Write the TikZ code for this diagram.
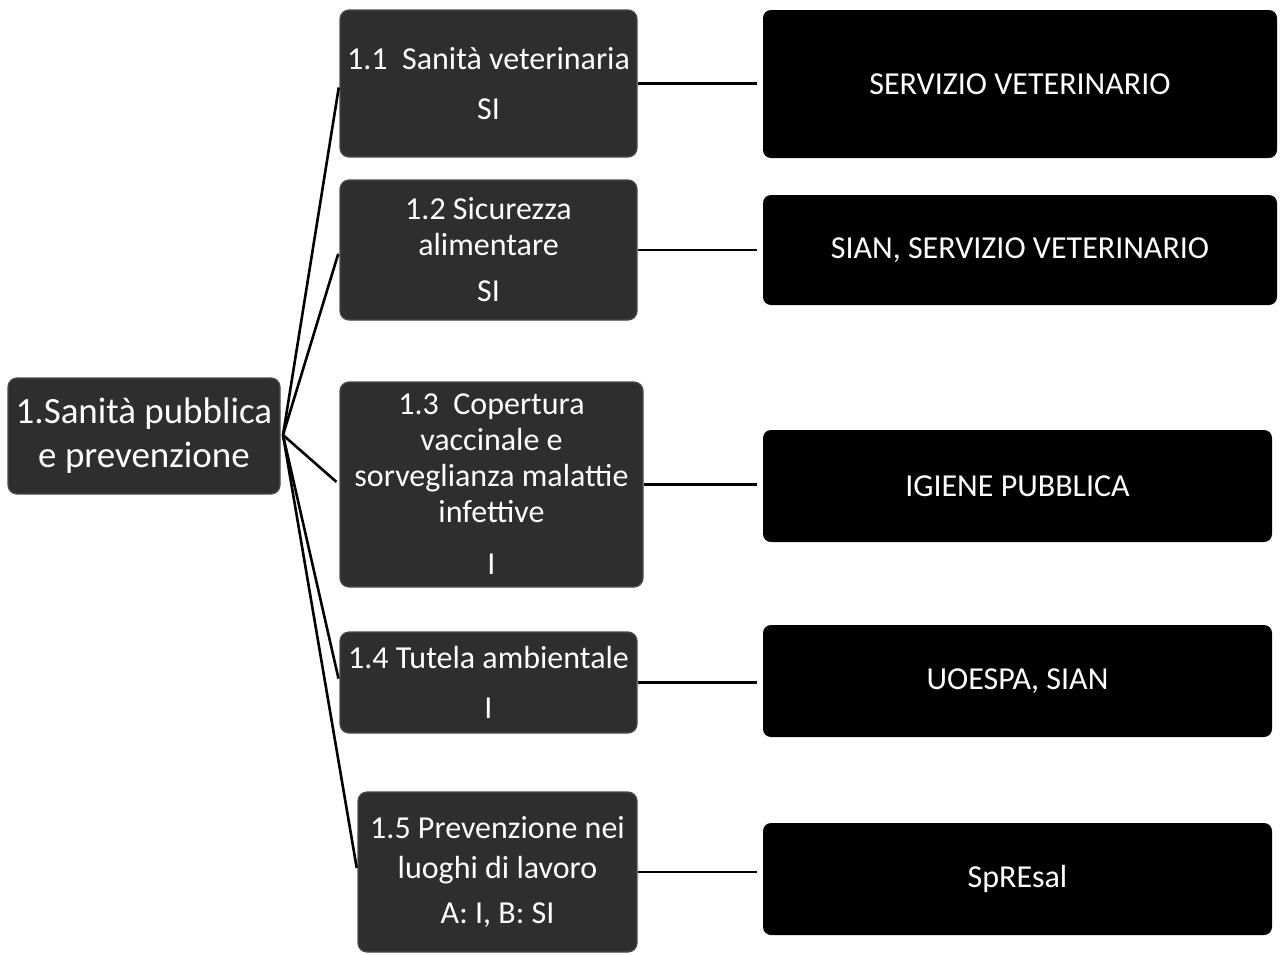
\documentclass[tikz,border=0pt]{standalone}
\usepackage{fontspec}
\setmainfont{Carlito}
\begin{document}
\begin{tikzpicture}[x=1pt,y=-1pt,
  topic/.style={draw=gray!60!black, line width=1.2pt, fill=black!82, rounded corners=9pt,
    text=white, align=center, inner sep=1pt, font=\fontsize{32}{36}\selectfont},
  office/.style={fill=black, rounded corners=8pt, text=white, align=center,
    font=\fontsize{32}{36}\selectfont},
  link/.style={line width=2.6pt, black}]
\useasboundingbox (0,0) rectangle (1280,954);
\fill[white] (0,0) rectangle (1280,954);

% root
\node[topic, minimum width=272pt, minimum height=116pt,
  font=\fontsize{37}{44}\selectfont] (root) at (144,436)
  {1.Sanità pubblica\\e prevenzione};

% sub-areas
\node[topic, minimum width=297pt, minimum height=147pt] (c1) at (488.5,83.5)
  {1.1 \ Sanità veterinaria\\[14pt]SI};
\node[topic, minimum width=297pt, minimum height=140pt] (c2) at (488.5,250)
  {1.2 Sicurezza\\alimentare\\[10pt]SI};
\node[topic, minimum width=303pt, minimum height=205pt] (c3) at (491.5,484.5)
  {1.3 \ Copertura\\vaccinale e\\sorveglianza malattie\\infettive\\[16pt]I};
\node[topic, minimum width=297pt, minimum height=101pt] (c4) at (488.5,682.5)
  {1.4 Tutela ambientale\\[14pt]I};
\node[topic, minimum width=279pt, minimum height=160pt] (c5) at (497.5,872)
  {1.5 Prevenzione nei\\[4pt]luoghi di lavoro\\[9pt]A: I, B: SI};

% responsible services
\node[office, minimum width=514pt, minimum height=148pt] (r1) at (1020,84) {SERVIZIO VETERINARIO};
\node[office, minimum width=514pt, minimum height=110pt] (r2) at (1020,250) {SIAN, SERVIZIO VETERINARIO};
\node[office, minimum width=509pt, minimum height=112pt] (r3) at (1017.5,486) {IGIENE PUBBLICA};
\node[office, minimum width=509pt, minimum height=112pt] (r4) at (1017.5,681) {UOESPA, SIAN};
\node[office, minimum width=509pt, minimum height=112pt] (r5) at (1017.5,879) {SpREsal};

% fan from the root to each sub-area
\coordinate (hub) at (283,435);
\foreach \c in {c1,c2,c3,c4,c5}
  \draw[link, shorten >=4pt] (hub) -- (\c.west);

% sub-area to service
\draw[link, shorten >=6pt] (c1.east) -- (c1.east -| r1.west);
\draw[link, shorten >=6pt] (c2.east) -- (c2.east -| r2.west);
\draw[link, shorten >=6pt] (c3.east) -- (c3.east -| r3.west);
\draw[link, shorten >=6pt] (c4.east) -- (c4.east -| r4.west);
\draw[link, shorten >=6pt] (c5.east) -- (c5.east -| r5.west);
\end{tikzpicture}
\end{document}
